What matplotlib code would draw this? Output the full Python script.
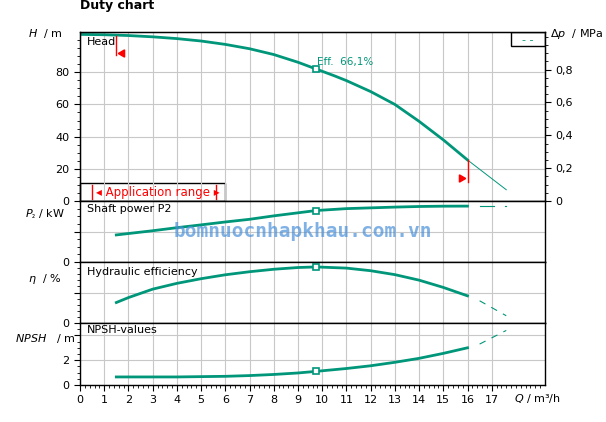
import matplotlib.pyplot as plt
import numpy as np

teal = "#00967a"

q_head = [0, 1, 2, 3, 4, 5, 6, 7, 8, 9, 9.75, 10.5, 11, 12, 13, 14, 15, 16]
h_head = [103.5, 103.3, 102.8, 102.0, 100.9, 99.4, 97.3, 94.6, 91.0, 86.2, 82.0, 77.8, 74.8, 68.0, 60.0, 49.5, 38.0, 25.5]
q_head_ext = [16, 17.6]
h_head_ext = [25.5, 7]

q_p = [1.5, 3, 4, 5, 6, 7, 8, 9, 9.75, 11, 12, 13, 14, 15, 16]
p_vals = [3.55, 4.1, 4.5, 4.87, 5.25, 5.6, 6.05, 6.45, 6.75, 7.0, 7.1, 7.2, 7.28, 7.32, 7.33]
q_p_ext = [16.5, 17.1]
p_ext = [7.33, 7.33]

q_eta = [1.5, 2, 3, 4, 5, 6, 7, 8, 9, 9.75, 11, 12, 13, 14, 15, 16]
eta_vals = [1.41, 1.75, 2.33, 2.73, 3.05, 3.32, 3.53, 3.7, 3.82, 3.86, 3.78, 3.6, 3.33, 2.95, 2.45, 1.87]
q_eta_ext = [16.5, 17.6]
eta_ext = [1.53, 0.5]

q_npsh = [1.5, 4, 6, 7, 8, 9, 9.75, 11, 12, 13, 14, 15, 16]
npsh_vals = [0.65, 0.65, 0.7, 0.76, 0.85, 0.97, 1.1, 1.33, 1.55, 1.83, 2.15, 2.55, 3.0]
q_npsh_ext = [16.5, 17.6]
npsh_ext = [3.3, 4.4]

fig = plt.figure(figsize=(6.06, 4.22), dpi=100)
L, W = 80 / 606, 465 / 606
def ax_at(top, bot):
    return fig.add_axes([L, 1 - bot / 422, W, (bot - top) / 422])

ax1 = ax_at(32, 201)
ax2 = ax_at(201, 262)
ax3 = ax_at(262, 323)
ax4 = ax_at(323, 385)

for ax in (ax1, ax2, ax3, ax4):
    ax.set_xlim(0, 19.2)
    ax.set_xticks(np.arange(0, 18, 1))
    ax.grid(True, color="#c8c8c8", lw=0.8)
    ax.tick_params(labelsize=8, length=4, direction="out")
    ax.tick_params(which="minor", length=2.5)
    for s in ax.spines.values():
        s.set_linewidth(1)
    if ax is not ax4:
        ax.tick_params(axis="x", labelbottom=False, length=0)
        ax.tick_params(axis="x", which="minor", length=0)

# head
ax1.set_ylim(0, 105)
ax1.set_yticks([0, 20, 40, 60, 80])
ax1.set_yticks(np.arange(0, 105, 5), minor=True)
ax1.plot(q_head, h_head, color=teal, lw=2)
ax1.plot(q_head_ext, h_head_ext, color=teal, lw=0.7)
ax1.plot(9.75, 82, "s", mfc="white", mec=teal, mew=1.2, ms=5)
ax1.text(9.8, 84.5, "Eff.  66,1%", color=teal, fontsize=7.5)
ax1.text(0.3, 99, "Head", fontsize=8, va="center")
ax1.plot([1.5, 1.5], [102.5, 91], color="red", lw=1)
ax1.plot(1.75, 92, marker=(3, 0, 90), color="red", ms=6)
ax1.plot([16, 16], [25.5, 12], color="red", lw=1)
ax1.plot(15.75, 14, marker=(3, 0, -90), color="red", ms=6)
ax1.add_patch(plt.Rectangle((0, 0), 6.0, 11, fill=False, ec="black", lw=1, clip_on=False))
ax1.plot([0.5, 0.5], [1, 10], color="red", lw=1)
ax1.plot([5.6, 5.6], [1, 10], color="red", lw=1)
ax1.text(0.65, 5.3, "◂ Application range ▸", color="red", fontsize=8.5, va="center")
ax1.add_patch(plt.Rectangle((17.8, 96), 1.4, 9, fill=True, fc="white", ec="black", lw=1))
ax1.text(18.5, 100, "- -", color=teal, fontsize=8, ha="center", va="center")
ax1.text(-0.075, 0.99, r"$H$  / m", transform=ax1.transAxes, fontsize=8, ha="center", va="center")

ax1r = ax1.twinx()
ax1r.set_ylim(0, 105 * 0.0098)
ax1r.set_yticks([0, 0.2, 0.4, 0.6, 0.8])
ax1r.set_yticklabels(["0", "0,2", "0,4", "0,6", "0,8"])
ax1r.set_yticks(np.arange(0, 1.03, 0.05), minor=True)
ax1r.tick_params(labelsize=8, length=4)
ax1r.tick_params(which="minor", length=2.5)
ax1r.text(1.01, 0.99, r"$\Delta p$  / MPa", transform=ax1.transAxes, fontsize=8, ha="left", va="center")

# power
ax2.set_ylim(0, 8)
ax2.set_yticks([0, 4])
ax2.set_yticklabels(["0", ""])
ax2.set_yticks(np.arange(0, 8, 1), minor=True)
ax2.plot(q_p, p_vals, color=teal, lw=2)
ax2.plot(q_p_ext, p_ext, color=teal, lw=0.8)
ax2.plot([17.55, 17.6], [7.33, 7.33], color=teal, lw=0.8)
ax2.plot(9.75, 6.75, "s", mfc="white", mec=teal, mew=1.2, ms=5)
ax2.text(0.3, 6.9, "Shaft power P2", fontsize=8, va="center")
ax2.text(-0.075, 0.78, r"$P_₂$ / kW", transform=ax2.transAxes, fontsize=8, ha="center", va="center")

# efficiency
ax3.set_ylim(0, 4.2)
ax3.set_yticks([0, 2.1])
ax3.set_yticklabels(["0", ""])
ax3.set_yticks(np.arange(0, 4.2, 0.42), minor=True)
ax3.plot(q_eta, eta_vals, color=teal, lw=2)
ax3.plot(q_eta_ext, eta_ext, color=teal, lw=0.8, ls=(0, (6, 6)))
ax3.plot(9.75, 3.86, "s", mfc="white", mec=teal, mew=1.2, ms=5)
ax3.text(0.3, 3.5, "Hydraulic efficiency", fontsize=8, va="center")
ax3.text(-0.075, 0.72, r"$\eta$  / %", transform=ax3.transAxes, fontsize=8, ha="center", va="center")

# npsh
ax4.set_ylim(0, 5)
ax4.set_yticks([0, 2, 4])
ax4.set_yticklabels(["0", "2", ""])
ax4.set_yticks(np.arange(0, 5, 0.5), minor=True)
ax4.set_xticks(np.arange(0, 19.2, 0.2), minor=True)
ax4.set_xticklabels([str(i) for i in range(18)])
ax4.plot(q_npsh, npsh_vals, color=teal, lw=2)
ax4.plot(q_npsh_ext, npsh_ext, color=teal, lw=0.8, ls=(0, (6, 6)))
ax4.plot(9.75, 1.1, "s", mfc="white", mec=teal, mew=1.2, ms=5)
ax4.text(0.3, 4.4, "NPSH-values", fontsize=8, va="center")
ax4.text(-0.075, 0.75, r"$NPSH$   / m", transform=ax4.transAxes, fontsize=8, ha="center", va="center")
ax4.text(17.9, -0.55, r"$Q$ / m³/h", fontsize=8, ha="left", va="top")

fig.text(80 / 606, 1 - 6 / 422, "Duty chart", fontsize=9, fontweight="bold", va="center")
fig.text(0.5, 1 - 231 / 422, "bomnuocnhapkhau.com.vn", fontsize=14, fontweight="bold",
         color="#4a90d9", alpha=0.7, ha="center", va="center", family="DejaVu Sans Mono")

fig.savefig("out.png", dpi=100)
